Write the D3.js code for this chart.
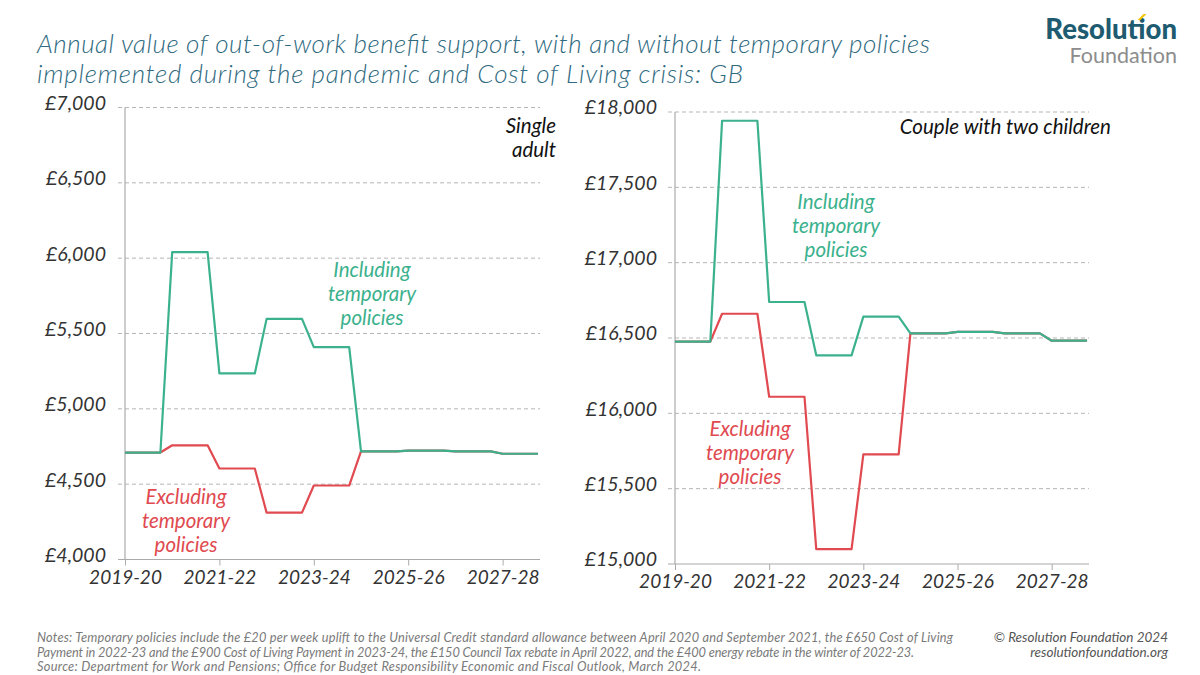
<!DOCTYPE html>
<html><head><meta charset="utf-8">
<script src="https://cdn.jsdelivr.net/npm/d3@7"></script>
<style>
body{margin:0;background:#fff;}
svg text{font-family:Lato,"Open Sans",sans-serif;}
</style></head>
<body>
<svg id="c" width="1200" height="675"></svg>
<script>
// ---- Data (quarterly, 2019-20 Q1 .. 2027-28 Q4) ----
const quarters = d3.range(0, 36);
const xTickQuarters = [0, 8, 16, 24, 32];
const xTickLabels = ["2019-20", "2021-22", "2023-24", "2025-26", "2027-28"];

const singleIncl = [4710,4710,4710,4710, 6040,6040,6040,6040, 5235,5235,5235,5235, 5597,5597,5597,5597, 5410,5410,5410,5410, 4718,4718,4718,4718, 4722,4722,4722,4722, 4718,4718,4718,4718, 4702,4702,4702,4702];
const singleExcl = [4710,4710,4710,4710, 4758,4758,4758,4758, 4604,4604,4604,4604, 4311,4311,4311,4311, 4491,4491,4491,4491, 4718,4718,4718,4718, 4722,4722,4722,4722, 4718,4718,4718,4718, 4702,4702,4702,4702];
const coupleIncl = [16476,16476,16476,16476, 17942,17942,17942,17942, 16739,16739,16739,16739, 16385,16385,16385,16385, 16642,16642,16642,16642, 16531,16531,16531,16531, 16541,16541,16541,16541, 16531,16531,16531,16531, 16482,16482,16482,16482];
const coupleExcl = [16476,16476,16476,16476, 16661,16661,16661,16661, 16110,16110,16110,16110, 15099,15099,15099,15099, 15728,15728,15728,15728, 16531,16531,16531,16531, 16541,16541,16541,16541, 16531,16531,16531,16531, 16482,16482,16482,16482];

const singleYTicks = [4000, 4500, 5000, 5500, 6000, 6500, 7000];
const coupleYTicks = [15000, 15500, 16000, 16500, 17000, 17500, 18000];

const GREEN = "#3bb18d", RED = "#e04a50", TEAL = "#2f6a80";
const svg = d3.select("#c");

// Title
const title = svg.append("text").attr("fill", TEAL).attr("font-style","italic").attr("font-size", 26).attr("font-weight",300);
title.append("tspan").attr("x", 37).attr("y", 53).attr("textLength",893).attr("lengthAdjust","spacing").text("Annual value of out-of-work benefit support, with and without temporary policies");
title.append("tspan").attr("x", 37).attr("y", 83).attr("textLength",706).attr("lengthAdjust","spacing").text("implemented during the pandemic and Cost of Living crisis: GB");

// Logo
const res = svg.append("text").attr("x",1177).attr("y",39).attr("text-anchor","end").attr("font-size",27.5).attr("font-weight",900).attr("fill","#1e5b70").attr("letter-spacing",0).text("Resolution");
svg.append("text").attr("x",1177).attr("y",63).attr("text-anchor","end").attr("font-size",21.5).attr("font-weight",400).attr("fill","#8c8c8c").text("Foundation");
const ip = res.node().getStartPositionOfChar(7);
const ix = ip.x;
svg.append("path").attr("d",`M${ix+1},20 L${ix+7},14 L${ix+10},14 L${ix+4},20 Z`).attr("fill","#f2c500");

function panel(cfg){
  const g = svg.append("g");
  const x = d3.scaleLinear().domain([0, 35]).range([cfg.x0, cfg.x1]);
  const y = d3.scaleLinear().domain([cfg.ymin, cfg.ymax]).range([cfg.yb, cfg.yt]);
  // gridlines
  g.selectAll(".grid").data(cfg.yTicks.filter(v=>v!==cfg.ymin)).join("line")
    .attr("x1", cfg.x0-7).attr("x2", cfg.x1+2).attr("y1", d=>y(d)).attr("y2", d=>y(d))
    .attr("stroke","#b5b5b5").attr("stroke-width",1).attr("stroke-dasharray","4,3");
  // y axis labels
  const ya = d3.axisLeft(y).tickValues(cfg.yTicks).tickSize(0).tickPadding(cfg.pad).tickFormat(d=>"£"+d3.format(",")(d));
  const yg = g.append("g").attr("transform",`translate(${cfg.x0},0)`).call(ya);
  yg.select(".domain").remove();
  yg.selectAll("text").attr("font-size",19.5).attr("font-style","italic").attr("fill","#333").attr("dy","0.1em").attr("font-family","Lato");
  // y axis line
  g.append("line").attr("x1",cfg.x0).attr("x2",cfg.x0).attr("y1",y(cfg.ymax)).attr("y2",y(cfg.ymin)).attr("stroke","#aaa").attr("stroke-width",1.2);
  // x axis
  const xa = d3.axisBottom(x).tickValues(xTickQuarters).tickSize(6).tickPadding(5).tickFormat((d,i)=>xTickLabels[i]);
  const xg = g.append("g").attr("transform",`translate(0,${y(cfg.ymin)})`).call(xa);
  xg.select(".domain").attr("d",`M${cfg.x0-7},0H${cfg.x1+2}`).attr("stroke","#aaa").attr("stroke-width",1.2);
  xg.selectAll(".tick line").attr("stroke","#aaa");
  xg.selectAll("text").attr("font-size",19).attr("font-style","italic").attr("fill","#333").attr("font-family","Lato");
  // lines
  const line = d3.line().x((d,i)=>x(quarters[i])).y(d=>y(d));
  g.append("path").datum(cfg.excl).attr("d",line).attr("fill","none").attr("stroke",RED).attr("stroke-width",2.2).attr("stroke-linejoin","round");
  g.append("path").datum(cfg.incl).attr("d",line).attr("fill","none").attr("stroke",GREEN).attr("stroke-width",2.2).attr("stroke-linejoin","round");
  // labels
  function lab(lines, xx, yy, color, anchor){
    const t = g.append("text").attr("font-size",20.5).attr("font-style","italic").attr("fill",color).attr("text-anchor",anchor);
    lines.forEach((s,i)=>t.append("tspan").attr("x",xx).attr("y",yy+i*cfg.lh).text(s));
  }
  cfg.labels.forEach(l=>lab(l.t,l.x,l.y,l.c,l.a));
}

panel({x0:125, x1:538, yt:107.5, yb:559.5, ymin:4000, ymax:7000, yTicks:singleYTicks, pad:19, incl:singleIncl, excl:singleExcl, lh:24,
  labels:[
    {t:["Single","adult"], x:556, y:133, c:"#111", a:"end"},
    {t:["Including","temporary","policies"], x:372, y:277, c:GREEN, a:"middle"},
    {t:["Excluding","temporary","policies"], x:186, y:504, c:RED, a:"middle"}
  ]});
panel({x0:675, x1:1087, yt:112, yb:564, ymin:15000, ymax:18000, yTicks:coupleYTicks, pad:18, incl:coupleIncl, excl:coupleExcl, lh:24,
  labels:[
    {t:["Couple with two children"], x:1111, y:134, c:"#111", a:"end"},
    {t:["Including","temporary","policies"], x:836, y:209, c:GREEN, a:"middle"},
    {t:["Excluding","temporary","policies"], x:750, y:436, c:RED, a:"middle"}
  ]});

// Notes
const notes = svg.append("text").attr("font-size",12.8).attr("font-style","italic").attr("fill","#7a7a7a");
[["Notes: Temporary policies include the £20 per week uplift to the Universal Credit standard allowance between April 2020 and September 2021, the £650 Cost of Living",916],
 ["Payment in 2022-23 and the £900 Cost of Living Payment in 2023-24, the £150 Council Tax rebate in April 2022, and the £400 energy rebate in the winter of 2022-23.",877],
 ["Source: Department for Work and Pensions; Office for Budget Responsibility Economic and Fiscal Outlook, March 2024.",664]].forEach((s,i)=>
  notes.append("tspan").attr("x",37).attr("y",642+i*14.5).attr("textLength",s[1]).attr("lengthAdjust","spacing").text(s[0]));
const cr = svg.append("text").attr("font-size",13.5).attr("font-style","italic").attr("fill","#555").attr("text-anchor","end");
["© Resolution Foundation 2024","resolutionfoundation.org"].forEach((s,i)=>cr.append("tspan").attr("x",1168).attr("y",642+i*15).text(s));
</script>
</body></html>
